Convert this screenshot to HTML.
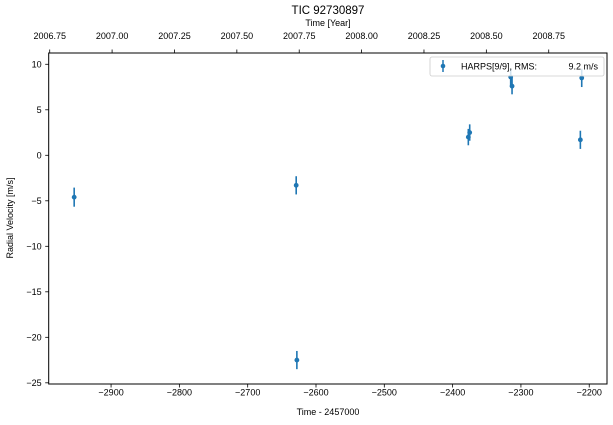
<!DOCTYPE html>
<html><head><meta charset="utf-8"><style>
body{margin:0;background:#fff;}
svg{display:block;font-family:"Liberation Sans",Arial,sans-serif;}
</style></head><body>
<svg id="chart" width="613" height="425">
<text x="328" y="14" font-size="11.5" text-anchor="middle">TIC 92730897</text>
<text x="328" y="26" font-size="9" text-anchor="middle">Time [Year]</text>
<text x="328" y="415" font-size="9" text-anchor="middle">Time - 2457000</text>
<text transform="translate(13,218) rotate(-90)" font-size="9" text-anchor="middle">Radial Velocity [m/s]</text>
<g id="ticks"></g>
<g id="marks"></g>
<rect x="48.7" y="53" width="558.3" height="331" fill="none" stroke="#000" stroke-width="1"/>
<g>
<rect x="430" y="57" width="174" height="19" rx="2" fill="#fff" fill-opacity="0.8" stroke="#ccc" stroke-width="0.8"/>
<line x1="443" y1="60" x2="443" y2="72" stroke="#1f77b4" stroke-width="1.5"/>
<circle cx="443" cy="66" r="2.3" fill="#1f77b4"/>
<text x="461" y="69.5" font-size="9">HARPS[9/9], RMS:</text>
<text x="598" y="69.5" font-size="9" text-anchor="end">9.2 m/s</text>
</g>
</svg>
<script>
const times = [-2954, -2629, -2628, -2377, -2375, -2315, -2313, -2213, -2211];
const rvs = [-4.6, -3.3, -22.5, 2.0, 2.5, 8.6, 7.6, 1.7, 8.5];
const errs = [1.05, 1.0, 1.0, 0.9, 0.9, 0.9, 0.9, 1.0, 1.0];
const xTicks = [-2900, -2800, -2700, -2600, -2500, -2400, -2300, -2200];
const yTicks = [10, 5, 0, -5, -10, -15, -20, -25];
const yearTicks = ["2006.75", "2007.00", "2007.25", "2007.50", "2007.75", "2008.00", "2008.25", "2008.50", "2008.75"];

const L = 48.7, R = 607, T = 53, B = 384;
const xMin = -2991.3, xMax = -2174.0;
const yMin = -25.13, yMax = 11.24;
function xs(v){ return L + (v - xMin) / (xMax - xMin) * (R - L); }
function ys(v){ return B - (v - yMin) / (yMax - yMin) * (B - T); }
function yearToT(y){ return -2898.5 + (y - 2007) * 365.25; }

const NS = "http://www.w3.org/2000/svg";
function mk(tag, attrs, parent){
  const e = document.createElementNS(NS, tag);
  for (const k in attrs) e.setAttribute(k, attrs[k]);
  parent.appendChild(e);
  return e;
}
const tg = document.getElementById('ticks');
const mg = document.getElementById('marks');

xTicks.forEach(v => {
  const x = xs(v);
  const l = mk('line', {x1:x, x2:x, y1:B, y2:B+3.5, stroke:'#000', 'stroke-width':0.8}, tg);
  
  
  const t = mk('text', {x:x, y:B+11.5, 'font-size':9, 'text-anchor':'middle'}, tg);
  t.textContent = '\u2212' + Math.abs(v);
  
  
});
yTicks.forEach(v => {
  const y = ys(v);
  const l = mk('line', {x1:L-3.5, x2:L, y1:y, y2:y, stroke:'#000', 'stroke-width':0.8}, tg);
  
  
  const t = mk('text', {x:L-7, y:y+3.3, 'font-size':9, 'text-anchor':'end'}, tg);
  t.textContent = v < 0 ? '\u2212' + Math.abs(v) : String(v);
  
  
});
yearTicks.forEach(s => {
  const x = xs(yearToT(parseFloat(s)));
  const l = mk('line', {x1:x, x2:x, y1:T-3.5, y2:T, stroke:'#000', 'stroke-width':0.8}, tg);
  
  
  const t = mk('text', {x:x, y:T-14, 'font-size':9, 'text-anchor':'middle'}, tg);
  t.textContent = s;
  
  
});
times.forEach((tv, i) => {
  const x = xs(tv);
  const eb = mk('line', {x1:x, x2:x, y1:ys(rvs[i]+errs[i]), y2:ys(rvs[i]-errs[i]), stroke:'#1f77b4', 'stroke-width':1.6}, mg);
  
  
  const c = mk('circle', {cx:x, cy:ys(rvs[i]), r:2.4, fill:'#1f77b4'}, mg);
  
  
});
</script>
</body></html>
